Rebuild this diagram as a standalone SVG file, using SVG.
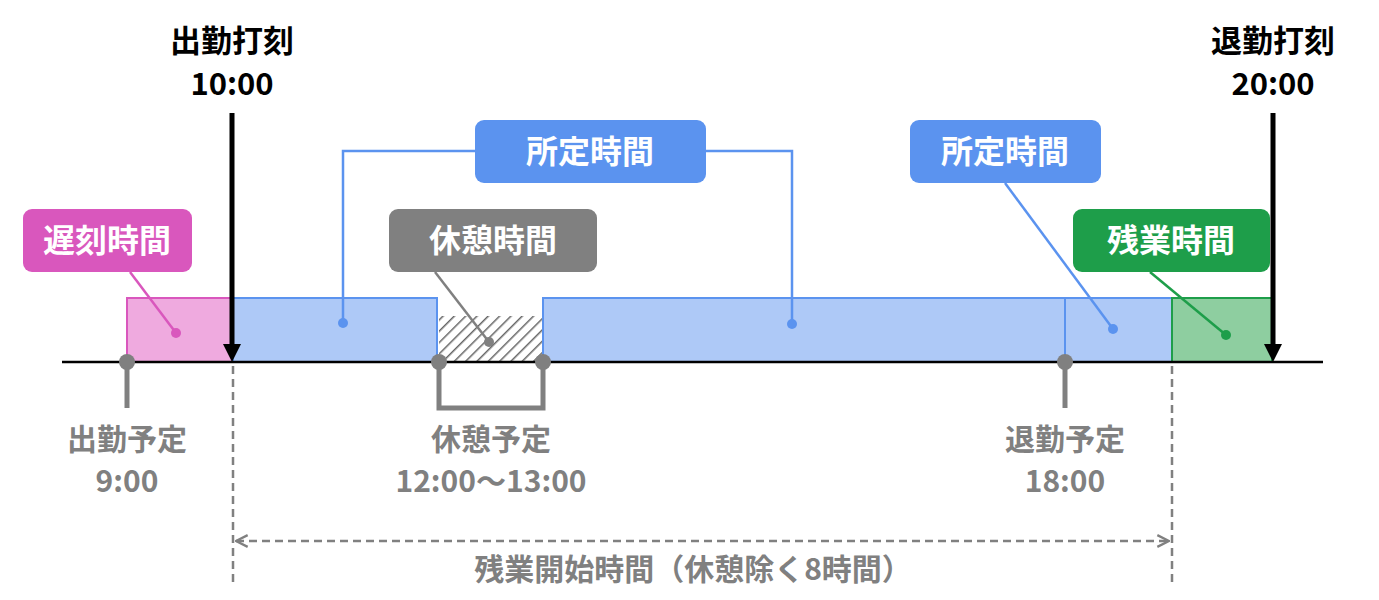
<svg xmlns="http://www.w3.org/2000/svg" width="1379" height="600" viewBox="0 0 1379 600">
<style>
text{font-family:"Noto Sans CJK JP","Liberation Sans",sans-serif;font-weight:bold;text-anchor:middle}
.w{fill:#fff;font-size:32px}
.k{fill:#000;font-size:31px}
.g{fill:#808080;font-size:30px}
.pin{stroke:#808080;stroke-width:5;fill:none}
.dash{stroke:#808080;stroke-width:2.5;stroke-dasharray:8 5;fill:none}
</style>
<defs>
<pattern id="h" width="8" height="8" patternUnits="userSpaceOnUse" patternTransform="rotate(45)">
<rect width="8" height="8" fill="#fff"/><line x1="0" y1="0" x2="0" y2="8" stroke="#666" stroke-width="3"/>
</pattern>
<marker id="ab" viewBox="0 0 10 10" refX="0" refY="5" markerWidth="18" markerHeight="18" markerUnits="userSpaceOnUse" orient="auto"><path d="M0,0L10,5L0,10z" fill="#000"/></marker>
<marker id="oa" viewBox="0 0 12 12" refX="11" refY="6" markerWidth="14" markerHeight="14" markerUnits="userSpaceOnUse" orient="auto-start-reverse"><path d="M1,1L11,6L1,11" fill="none" stroke="#808080" stroke-width="2"/></marker>
</defs>
<g id="bars">
<rect x="127" y="298" width="106" height="64" fill="#efaadf" stroke="#d957bd" stroke-width="2"/>
<rect x="233" y="298" width="204" height="64" fill="#aec9f7" stroke="#5b93ef" stroke-width="2"/>
<rect x="439" y="316" width="104" height="46" fill="url(#h)"/>
<rect x="543" y="298" width="629" height="64" fill="#aec9f7" stroke="#5b93ef" stroke-width="2"/>
<line x1="1065" y1="298" x2="1065" y2="362" stroke="#5b93ef" stroke-width="2"/>
<rect x="1172" y="298" width="100" height="64" fill="#8ecea0" stroke="#1e9e4a" stroke-width="2"/>
</g>
<g id="connectors">
<line x1="62" y1="362" x2="1323" y2="362" stroke="#000" stroke-width="2.5"/>
<line x1="232" y1="113" x2="232" y2="344" stroke="#000" stroke-width="5" marker-end="url(#ab)"/>
<line x1="1273" y1="113" x2="1273" y2="344" stroke="#000" stroke-width="5" marker-end="url(#ab)"/>
<line class="dash" x1="233" y1="366" x2="233" y2="585"/>
<line class="dash" x1="1172" y1="366" x2="1172" y2="585"/>
<line class="dash" x1="236" y1="541" x2="1169" y2="541" marker-start="url(#oa)" marker-end="url(#oa)"/>
<path class="pin" d="M127,362V408"/><circle cx="127" cy="362" r="8" fill="#808080"/>
<path class="pin" d="M439,362V408H543V362"/><circle cx="439" cy="362" r="8" fill="#808080"/><circle cx="543" cy="362" r="8" fill="#808080"/>
<path class="pin" d="M1065,362V408"/><circle cx="1065" cy="362" r="8" fill="#808080"/>
<line x1="130" y1="272" x2="176" y2="333" stroke="#d957bd" stroke-width="2.5"/><circle cx="176" cy="333" r="5" fill="#d957bd"/>
<path d="M475,151H343V323M706,151H792V324" fill="none" stroke="#5b93ef" stroke-width="2.5"/>
<circle cx="343" cy="323" r="5" fill="#5b93ef"/><circle cx="792" cy="324" r="5" fill="#5b93ef"/>
<line x1="435" y1="272" x2="489" y2="342" stroke="#808080" stroke-width="2.5"/><circle cx="489" cy="342" r="5" fill="#808080"/>
<line x1="1005" y1="183" x2="1113" y2="329" stroke="#5b93ef" stroke-width="2.5"/><circle cx="1113" cy="329" r="5" fill="#5b93ef"/>
<line x1="1150" y1="272" x2="1226" y2="335" stroke="#1e9e4a" stroke-width="2.5"/><circle cx="1226" cy="335" r="5" fill="#1e9e4a"/>
</g>
<g id="late"><rect x="23" y="209" width="169" height="63" rx="9" fill="#d957bd"/><text class="w" x="107" y="252">遅刻時間</text></g>
<g id="scheduled1"><rect x="475" y="120" width="231" height="63" rx="9" fill="#5b93ef"/><text class="w" x="590" y="163">所定時間</text></g>
<g id="break"><rect x="389" y="209" width="208" height="63" rx="9" fill="#808080"/><text class="w" x="493" y="252">休憩時間</text></g>
<g id="scheduled2"><rect x="910" y="120" width="191" height="63" rx="9" fill="#5b93ef"/><text class="w" x="1005" y="163">所定時間</text></g>
<g id="overtime"><rect x="1073" y="209" width="197" height="63" rx="9" fill="#1e9e4a"/><text class="w" x="1171" y="252">残業時間</text></g>
<g id="clockin"><text class="k" x="232" y="52">出勤打刻</text><text class="k" x="232" y="95">10:00</text></g>
<g id="clockout"><text class="k" x="1273" y="52">退勤打刻</text><text class="k" x="1273" y="95">20:00</text></g>
<g id="labels">
<text class="g" x="127" y="450">出勤予定</text><text class="g" x="127" y="492">9:00</text>
<text class="g" x="491" y="450">休憩予定</text><text class="g" x="491" y="492">12:00～13:00</text>
<text class="g" x="1065" y="450">退勤予定</text><text class="g" x="1065" y="492">18:00</text>
<text class="g" x="693" y="580">残業開始時間（休憩除く8時間）</text>
</g>
</svg>
